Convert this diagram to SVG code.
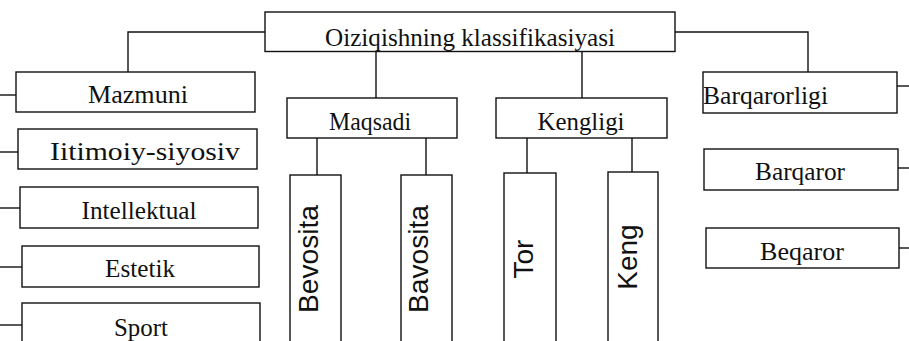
<svg xmlns="http://www.w3.org/2000/svg" width="909" height="341" viewBox="0 0 909 341">
<style>
  .box { fill: #ffffff; stroke: #111111; stroke-width: 1.4; }
  .ln { fill: none; stroke: #111111; stroke-width: 1.4; }
  .t { font-family: "Liberation Serif", "Times New Roman", serif; font-size: 26px; fill: #111111; text-anchor: middle; }
  .v { font-family: "Liberation Sans", Arial, sans-serif; font-size: 28px; fill: #111111; text-anchor: middle; }
</style>
<rect width="909" height="341" fill="#ffffff"/>
<g id="connectors">
  <polyline class="ln" points="265,32 128,32 128,72"/>
  <polyline class="ln" points="675,32 808,32 808,72"/>
  <line class="ln" x1="376" y1="51" x2="376" y2="98"/>
  <line class="ln" x1="582" y1="51" x2="582" y2="98"/>
  <line class="ln" x1="317" y1="138" x2="317" y2="175"/>
  <line class="ln" x1="426" y1="138" x2="426" y2="175"/>
  <line class="ln" x1="527" y1="138" x2="527" y2="173"/>
  <line class="ln" x1="632" y1="138" x2="632" y2="172"/>
  <line class="ln" x1="0" y1="95" x2="16" y2="95"/>
  <line class="ln" x1="0" y1="152" x2="18" y2="152"/>
  <line class="ln" x1="0" y1="208" x2="20" y2="208"/>
  <line class="ln" x1="0" y1="267" x2="22" y2="267"/>
  <line class="ln" x1="0" y1="325" x2="22" y2="325"/>
  <line class="ln" x1="897" y1="86" x2="909" y2="86"/>
  <line class="ln" x1="898" y1="168" x2="909" y2="168"/>
  <line class="ln" x1="899" y1="248" x2="909" y2="248"/>
</g>
<g id="root">
  <rect class="box" x="265" y="12" width="410" height="39.5"/>
  <text class="t" x="470" y="46" textLength="290" lengthAdjust="spacingAndGlyphs">Oiziqishning klassifikasiyasi</text>
</g>
<g id="mazmuni">
  <rect class="box" x="16" y="72" width="239" height="40"/>
  <text class="t" x="138" y="103" textLength="100" lengthAdjust="spacingAndGlyphs">Mazmuni</text>
</g>
<g id="ijtimoiy">
  <rect class="box" x="18" y="129" width="239" height="40"/>
  <text class="t" x="145" y="160" textLength="190" lengthAdjust="spacingAndGlyphs">Iitimoiy-siyosiv</text>
</g>
<g id="intellektual">
  <rect class="box" x="20" y="187" width="238" height="41"/>
  <text class="t" x="139" y="219" textLength="115" lengthAdjust="spacingAndGlyphs">Intellektual</text>
</g>
<g id="estetik">
  <rect class="box" x="22" y="246" width="237" height="41"/>
  <text class="t" x="140" y="277" textLength="70" lengthAdjust="spacingAndGlyphs">Estetik</text>
</g>
<g id="sport">
  <rect class="box" x="22" y="303" width="238" height="50"/>
  <text class="t" x="141" y="336" textLength="54" lengthAdjust="spacingAndGlyphs">Sport</text>
</g>
<g id="maqsadi">
  <rect class="box" x="287" y="98" width="170" height="40"/>
  <text class="t" x="370" y="130" textLength="82" lengthAdjust="spacingAndGlyphs">Maqsadi</text>
</g>
<g id="kengligi">
  <rect class="box" x="496" y="98" width="171" height="40"/>
  <text class="t" x="581" y="130" textLength="87" lengthAdjust="spacingAndGlyphs">Kengligi</text>
</g>
<g id="bevosita">
  <rect class="box" x="290" y="175" width="51" height="180"/>
  <text class="v" transform="translate(318,259) rotate(-90)" textLength="108" lengthAdjust="spacingAndGlyphs">Bevosita</text>
</g>
<g id="bavosita">
  <rect class="box" x="401" y="175" width="51" height="180"/>
  <text class="v" transform="translate(428,259) rotate(-90)" textLength="108" lengthAdjust="spacingAndGlyphs">Bavosita</text>
</g>
<g id="tor">
  <rect class="box" x="504" y="173" width="52" height="182"/>
  <text class="v" transform="translate(533,259) rotate(-90)">Tor</text>
</g>
<g id="keng">
  <rect class="box" x="608" y="172" width="50" height="183"/>
  <text class="v" transform="translate(637,257) rotate(-90)">Keng</text>
</g>
<g id="barqarorligi">
  <rect class="box" x="703" y="72" width="194" height="41"/>
  <text class="t" x="703" y="104" style="text-anchor:start" textLength="125" lengthAdjust="spacingAndGlyphs">Barqarorligi</text>
</g>
<g id="barqaror">
  <rect class="box" x="704" y="149" width="194" height="41"/>
  <text class="t" x="800" y="180" textLength="90" lengthAdjust="spacingAndGlyphs">Barqaror</text>
</g>
<g id="beqaror">
  <rect class="box" x="706" y="228" width="193" height="40"/>
  <text class="t" x="802" y="260" textLength="84" lengthAdjust="spacingAndGlyphs">Beqaror</text>
</g>
</svg>
